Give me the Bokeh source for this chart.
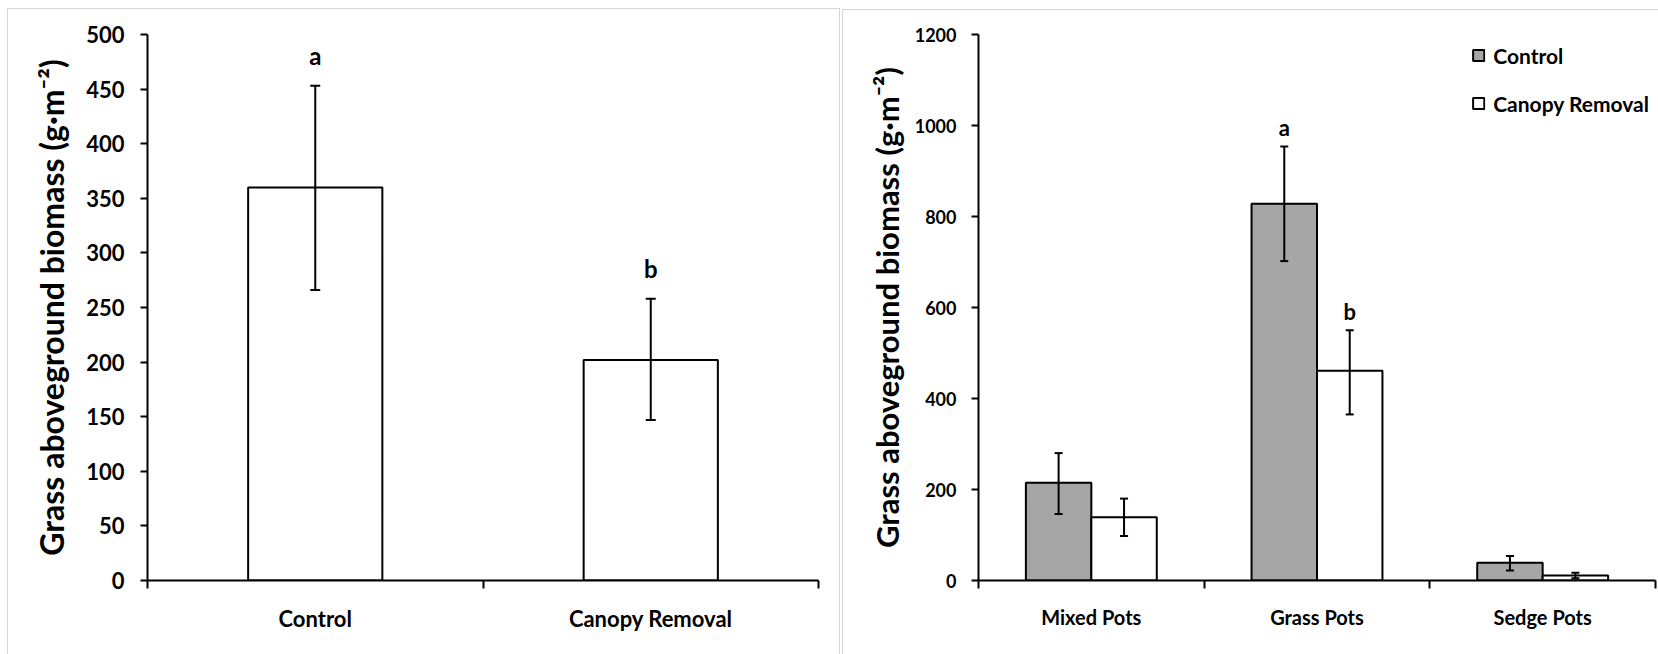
from bokeh.plotting import figure
from bokeh.models import (Range1d, FixedTicker, ColumnDataSource, Whisker,
                          TeeHead, Legend, LegendItem, InlineStyleSheet)
from bokeh.layouts import row
from bokeh.embed import file_html
from bokeh.resources import INLINE
from bokeh.core.properties import value

# ---------------- data ----------------
left_categories = ["Control", "Canopy Removal"]
left_means = [360, 202]
left_upper = [453, 258]
left_lower = [266, 147]
left_letters = ["a", "b"]
left_yticks = [0, 50, 100, 150, 200, 250, 300, 350, 400, 450, 500]

right_categories = ["Mixed Pots", "Grass Pots", "Sedge Pots"]
right_series = ["Control", "Canopy Removal"]
control_means = [215, 828, 39]
control_upper = [280, 954, 54]
control_lower = [146, 702, 22]
removal_means = [139, 461, 11]
removal_upper = [180, 550, 17]
removal_lower = [98, 365, 5]
grass_letters = ["a", "b"]          # Grass Pots: Control, Canopy Removal
right_yticks = [0, 200, 400, 600, 800, 1000, 1200]

YLABEL = "Grass aboveground biomass (g\u00b7m\u207b\u00b2)"
FONT = "Lato"
GRAY = "#a6a6a6"


def frame_css(left, top, right):
    return InlineStyleSheet(css=(
        ":host::after{content:'';position:absolute;"
        f"left:{left}px;top:{top}px;right:{right}px;bottom:-6px;"
        "border:1.5px solid #d6d6d6;pointer-events:none;z-index:100;}"))


def style_yaxis(ax, size):
    ax.axis_line_width = 2
    ax.axis_line_color = "black"
    ax.major_tick_line_width = 2
    ax.major_tick_out = 7
    ax.major_tick_in = 0
    ax.minor_tick_line_color = None
    ax.major_label_text_font = FONT
    ax.major_label_text_font_style = "bold"
    ax.major_label_text_font_size = size
    ax.major_label_text_color = "black"
    ax.axis_label_text_font = FONT
    ax.axis_label_text_font_style = "bold"
    ax.axis_label_text_color = "black"


def style_xaxis(ax, cats, size, standoff):
    centers = [i + 0.5 for i in range(len(cats))]
    bounds = list(range(len(cats) + 1))
    ax.ticker = FixedTicker(ticks=centers, minor_ticks=bounds)
    ax.major_label_overrides = {c: t for c, t in zip(centers, cats)}
    ax.axis_line_width = 2
    ax.axis_line_color = "black"
    ax.major_tick_line_color = None
    ax.major_tick_out = 8
    ax.major_tick_in = 0
    ax.minor_tick_line_color = "black"
    ax.minor_tick_line_width = 2
    ax.minor_tick_out = 8
    ax.minor_tick_in = 0
    ax.major_label_text_font = FONT
    ax.major_label_text_font_style = "bold"
    ax.major_label_text_font_size = size
    ax.major_label_text_color = "black"
    ax.major_label_standoff = standoff


# ---------------- left panel ----------------
p1 = figure(width=842, height=654, x_range=Range1d(0, 2), y_range=Range1d(0, 500),
            output_backend="svg", toolbar_location=None,
            min_border_left=147, min_border_right=24, min_border_top=34, min_border_bottom=74,
            stylesheets=[frame_css(7, 8, 2)])
p1.grid.visible = False
p1.outline_line_color = None
p1.background_fill_color = "white"
p1.border_fill_color = "white"

ly = p1.yaxis[0]
ly.ticker = FixedTicker(ticks=left_yticks)
ly.axis_label = YLABEL
ly.axis_label_text_font_size = "32px"
ly.axis_label_standoff = 12
ly.major_label_standoff = 16
style_yaxis(ly, "22px")
style_xaxis(p1.xaxis[0], left_categories, "22px", 16)

lx = [i + 0.5 for i in range(len(left_categories))]
lsrc = ColumnDataSource(dict(x=lx, top=left_means, upper=left_upper, lower=left_lower,
                             letter=left_letters))
p1.vbar(x="x", top="top", bottom=0, width=0.40, source=lsrc,
        fill_color="white", line_color="black", line_width=2)
p1.add_layout(Whisker(source=lsrc, base="x", upper="upper", lower="lower",
                      line_width=2, line_color="black", level="annotation",
                      upper_head=TeeHead(size=10, line_width=2),
                      lower_head=TeeHead(size=10, line_width=2)))
p1.text(x="x", y="upper", text="letter", source=lsrc, text_font=value(FONT),
        text_font_style="bold", text_font_size="24px", text_align="center",
        text_baseline="alphabetic", y_offset=-30, text_color="black")

# ---------------- right panel ----------------
p2 = figure(width=816, height=654, x_range=Range1d(0, 3), y_range=Range1d(0, 1200),
            output_backend="svg", toolbar_location=None,
            min_border_left=136, min_border_right=3, min_border_top=34, min_border_bottom=69,
            stylesheets=[frame_css(0, 9, -6)])
p2.grid.visible = False
p2.outline_line_color = None
p2.background_fill_color = "white"
p2.border_fill_color = "white"

ry = p2.yaxis[0]
ry.ticker = FixedTicker(ticks=right_yticks)
ry.axis_label = YLABEL
ry.axis_label_text_font_size = "31px"
ry.axis_label_standoff = 6
ry.major_label_standoff = 15
style_yaxis(ry, "18px")
style_xaxis(p2.xaxis[0], right_categories, "20px", 16)

BW = 0.29
cx = [i + 0.5 - BW / 2 for i in range(len(right_categories))]
rx = [i + 0.5 + BW / 2 for i in range(len(right_categories))]
csrc = ColumnDataSource(dict(x=cx, top=control_means, upper=control_upper, lower=control_lower))
rsrc = ColumnDataSource(dict(x=rx, top=removal_means, upper=removal_upper, lower=removal_lower))

r_ctrl = p2.vbar(x="x", top="top", bottom=0, width=BW, source=csrc,
                 fill_color=GRAY, line_color="black", line_width=2)
r_rem = p2.vbar(x="x", top="top", bottom=0, width=BW, source=rsrc,
                fill_color="white", line_color="black", line_width=2)
for s in (csrc, rsrc):
    p2.add_layout(Whisker(source=s, base="x", upper="upper", lower="lower",
                          line_width=2, line_color="black", level="annotation",
                          upper_head=TeeHead(size=8, line_width=2),
                          lower_head=TeeHead(size=8, line_width=2)))

gi = right_categories.index("Grass Pots")
lettersrc = ColumnDataSource(dict(x=[cx[gi], rx[gi]], y=[control_upper[gi], removal_upper[gi]],
                                  letter=grass_letters))
p2.text(x="x", y="y", text="letter", source=lettersrc, text_font=value(FONT),
        text_font_style="bold", text_font_size="22px", text_align="center",
        text_baseline="alphabetic", y_offset=-19, text_color="black")

legend = Legend(items=[LegendItem(label=right_series[0], renderers=[r_ctrl]),
                       LegendItem(label=right_series[1], renderers=[r_rem])],
                location="top_right")
legend.glyph_width = 14
legend.glyph_height = 14
legend.label_height = 30
legend.spacing = 18
legend.padding = 6
legend.margin = 6
legend.label_standoff = 8
legend.label_text_font = FONT
legend.label_text_font_style = "bold"
legend.label_text_font_size = "21px"
legend.label_text_color = "black"
legend.background_fill_alpha = 0
legend.border_line_color = None
p2.add_layout(legend)

layout = row(p1, p2)
open("out.html", "w").write(file_html(layout, INLINE))
